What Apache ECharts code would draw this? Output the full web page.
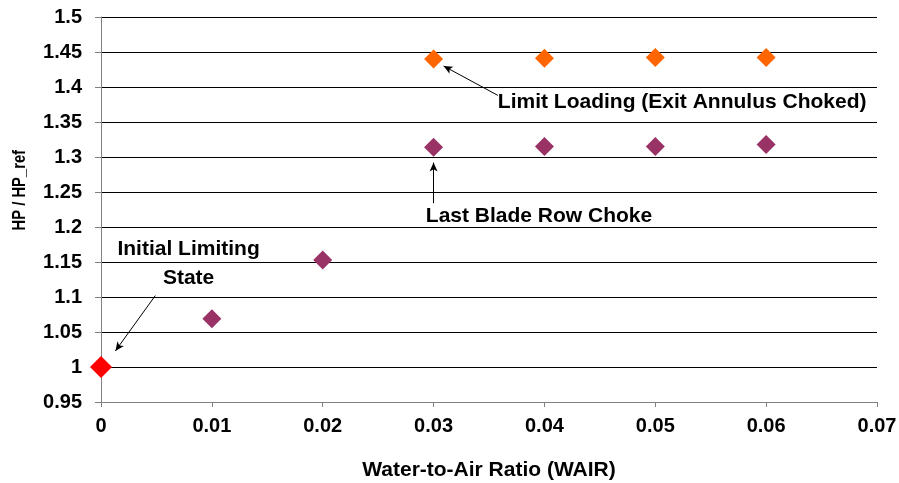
<!DOCTYPE html>
<html>
<head>
<meta charset="utf-8">
<script src="https://cdn.jsdelivr.net/npm/echarts@6/dist/echarts.min.js"></script>
<style>
  html, body { margin: 0; padding: 0; background: #fff; }
  #main { width: 899px; height: 483px; }
</style>
</head>
<body>
<div id="main"></div>
<script>
  // data
  const startPoint = [[0, 1.0]];
  const bladeChoke = [[0.01, 1.069], [0.02, 1.153], [0.03, 1.314], [0.04, 1.315], [0.05, 1.315], [0.06, 1.318]];
  const limitLoad = [[0.03, 1.44], [0.04, 1.441], [0.05, 1.442], [0.06, 1.442]];

  // annotations: text position, arrow start, arrow end (data units)
  const noteInitial = { text: 'Initial Limiting\nState', at: [0.0079, 1.148], from: [0.0049, 1.102], to: [0.0013, 1.023] };
  const noteLimit = { text: 'Limit Loading (Exit Annulus Choked)', at: [0.0358, 1.378], from: [0.0358, 1.388], to: [0.0309, 1.43] };
  const noteBlade = { text: 'Last Blade Row Choke', at: [0.0293, 1.216], from: [0.03, 1.234], to: [0.03, 1.292] };

  const base = { fontFamily: 'Liberation Sans', fontWeight: 'bold', color: '#000' };
  const tickFont = Object.assign({ fontSize: 20 }, base);
  const noteFont = Object.assign({ fontSize: 21 }, base);

  function arrow(n) {
    return [{ coord: n.from }, { coord: n.to }];
  }

  let myChart = echarts.init(document.getElementById('main'));
  let option = {
    animation: false,
    backgroundColor: '#fff',
    grid: { left: 101, right: 22, top: 17, bottom: 81, containLabel: false, outerBoundsMode: 'none' },
    graphic: [{
      type: 'text', left: 11, top: 150, rotation: Math.PI / 2, scaleX: 0.82,
      style: Object.assign({ text: 'HP / HP_ref', fontSize: 18 }, base, { fill: '#000' })
    }],
    xAxis: {
      type: 'value', min: 0, max: 0.07, interval: 0.01,
      name: 'Water-to-Air Ratio (WAIR)', nameLocation: 'middle', nameGap: 58,
      nameTextStyle: Object.assign({ fontSize: 21 }, base),
      axisLine: { lineStyle: { color: '#808080', width: 1 } },
      axisTick: { show: true, length: 5, lineStyle: { color: '#808080' } },
      axisLabel: Object.assign({ margin: 14, formatter: v => (v === 0 ? '0' : v.toFixed(2)) }, tickFont),
      splitLine: { show: false }
    },
    yAxis: {
      type: 'value', min: 0.95, max: 1.5, interval: 0.05,
      axisLine: { show: true, lineStyle: { color: '#808080', width: 1 } },
      axisTick: { show: true, length: 6, lineStyle: { color: '#808080' } },
      axisLabel: Object.assign({ margin: 19, formatter: v => String(+v.toFixed(2)) }, tickFont),
      splitLine: { show: true, lineStyle: { color: '#000', width: 1 } }
    },
    series: [
      {
        type: 'scatter', symbol: 'diamond', symbolSize: 22, z: 5,
        itemStyle: { color: '#ff0000', opacity: 1 }, data: startPoint,
        markLine: {
          silent: true, symbol: ['none', 'arrow'], symbolSize: [6, 9],
          lineStyle: { color: '#000', width: 1, type: 'solid' }, label: { show: false },
          data: [arrow(noteInitial), arrow(noteLimit), arrow(noteBlade)]
        },
        markPoint: {
          silent: true, symbol: 'circle', symbolSize: 0,
          data: [
            { coord: noteInitial.at, label: Object.assign({ show: true, formatter: noteInitial.text, align: 'center', verticalAlign: 'middle', lineHeight: 29 }, noteFont) },
            { coord: noteLimit.at, label: Object.assign({ show: true, formatter: noteLimit.text, align: 'left', verticalAlign: 'middle' }, noteFont) },
            { coord: noteBlade.at, label: Object.assign({ show: true, formatter: noteBlade.text, align: 'left', verticalAlign: 'middle' }, noteFont) }
          ]
        }
      },
      {
        type: 'scatter', symbol: 'diamond', symbolSize: 19,
        itemStyle: { color: '#993366', opacity: 1 }, data: bladeChoke
      },
      {
        type: 'scatter', symbol: 'diamond', symbolSize: 19,
        itemStyle: { color: '#ff6600', opacity: 1 }, data: limitLoad
      }
    ]
  };
  option && myChart.setOption(option);
</script>
</body>
</html>
